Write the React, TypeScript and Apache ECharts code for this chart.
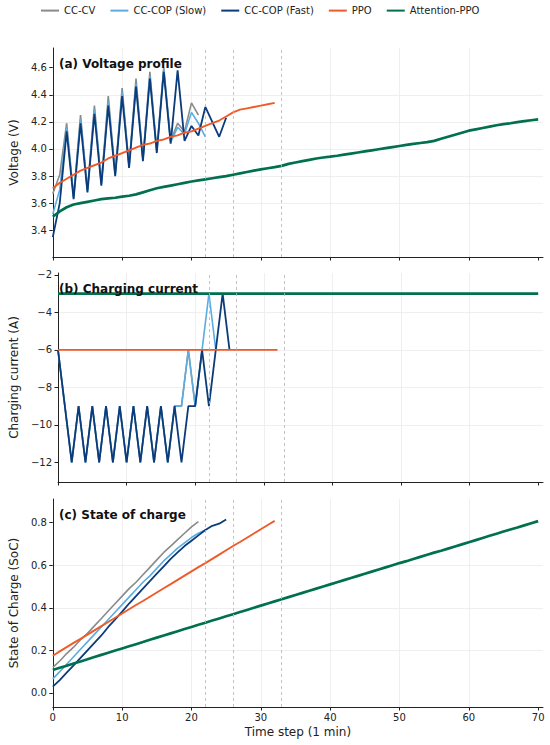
import React, { useEffect, useRef } from "react";
import * as echarts from "echarts";

// ---------- data ----------
const seriesNames = ["CC-CV", "CC-COP (Slow)", "CC-COP (Fast)", "PPO", "Attention-PPO"];
const switchSteps = [22, 26, 33];

const timeTicks = [0, 10, 20, 30, 40, 50, 60, 70];
const voltageTicks = [3.4, 3.6, 3.8, 4.0, 4.2, 4.4, 4.6];
const currentTicks = [-12, -10, -8, -6, -4, -2];
const socTicks = [0.0, 0.2, 0.4, 0.6, 0.8];

// Voltage (V)
const voltCCCV = [3.67, 3.81, 4.19, 3.65, 4.25, 3.70, 4.32, 3.75, 4.39, 3.82, 4.45, 3.88, 4.52, 3.93, 4.57, 3.99, 4.60, 4.06, 4.19, 4.13, 4.34, 4.25];
const voltSlow = [3.52, 3.70, 4.16, 3.64, 4.22, 3.69, 4.29, 3.74, 4.35, 3.81, 4.42, 3.87, 4.48, 3.92, 4.54, 3.98, 4.59, 4.05, 4.16, 4.11, 4.27, 4.19, 4.09];
const voltFast = [3.35, 3.60, 4.13, 3.63, 4.19, 3.68, 4.26, 3.73, 4.32, 3.80, 4.39, 3.86, 4.46, 3.91, 4.52, 3.97, 4.57, 4.04, 4.58, 4.06, 4.17, 4.10, 4.31, 4.20, 4.09, 4.23];
const voltPPO = [3.71, 3.75, 3.78, 3.81, 3.84, 3.86, 3.88, 3.90, 3.93, 3.95, 3.97, 3.99, 4.01, 4.03, 4.04, 4.06, 4.07, 4.09, 4.10, 4.12, 4.13, 4.15, 4.17, 4.19, 4.21, 4.24, 4.27, 4.29, 4.30, 4.31, 4.32, 4.33, 4.34];
const voltAttn = [3.50, 3.54, 3.57, 3.59, 3.60, 3.61, 3.62, 3.63, 3.635, 3.64, 3.648, 3.655, 3.665, 3.68, 3.695, 3.71, 3.72, 3.73, 3.74, 3.75, 3.76, 3.768, 3.776, 3.784, 3.792, 3.80, 3.81, 3.82, 3.83, 3.84, 3.85, 3.858, 3.866, 3.875, 3.89, 3.90, 3.91, 3.92, 3.93, 3.937, 3.943, 3.95, 3.958, 3.966, 3.974, 3.982, 3.99, 3.998, 4.006, 4.014, 4.022, 4.03, 4.037, 4.044, 4.05, 4.06, 4.075, 4.09, 4.105, 4.12, 4.135, 4.145, 4.155, 4.165, 4.175, 4.183, 4.19, 4.198, 4.205, 4.212, 4.218];

// Charging current (A)
const currCCCV = [-6, -9, -12, -9, -12, -9, -12, -9, -12, -9, -12, -9, -12, -9, -12, -9, -12, -9, -9, -6, -9, -6];
const currSlow = [-6, -9, -12, -9, -12, -9, -12, -9, -12, -9, -12, -9, -12, -9, -12, -9, -12, -9, -9, -6, -9, -6, -3, -6];
const currFast = [-6, -9, -12, -9, -12, -9, -12, -9, -12, -9, -12, -9, -12, -9, -12, -9, -12, -9, -12, -9, -9, -6, -9, -6, -3, -6];
const currPPO = [-6, -6, -6, -6, -6, -6, -6, -6, -6, -6, -6, -6, -6, -6, -6, -6, -6, -6, -6, -6, -6, -6, -6, -6, -6, -6, -6, -6, -6, -6, -6, -6, -6];
const currAttn = [-3, -3, -3, -3, -3, -3, -3, -3, -3, -3, -3, -3, -3, -3, -3, -3, -3, -3, -3, -3, -3, -3, -3, -3, -3, -3, -3, -3, -3, -3, -3, -3, -3, -3, -3, -3, -3, -3, -3, -3, -3, -3, -3, -3, -3, -3, -3, -3, -3, -3, -3, -3, -3, -3, -3, -3, -3, -3, -3, -3, -3, -3, -3, -3, -3, -3, -3, -3, -3, -3, -3];

// State of charge
const socCCCV = [0.12, 0.15, 0.185, 0.215, 0.25, 0.28, 0.315, 0.35, 0.385, 0.42, 0.455, 0.49, 0.52, 0.555, 0.59, 0.625, 0.66, 0.69, 0.72, 0.75, 0.78, 0.805];
const socSlow = [0.066, 0.10, 0.135, 0.17, 0.205, 0.24, 0.275, 0.31, 0.345, 0.38, 0.415, 0.45, 0.485, 0.52, 0.55, 0.585, 0.62, 0.65, 0.68, 0.705, 0.73, 0.75, 0.765];
const socFast = [0.03, 0.06, 0.095, 0.13, 0.165, 0.2, 0.235, 0.27, 0.31, 0.345, 0.382, 0.42, 0.455, 0.49, 0.525, 0.56, 0.595, 0.63, 0.66, 0.69, 0.715, 0.74, 0.765, 0.785, 0.795, 0.815];
const socPPO = [0.175, 0.195, 0.215, 0.235, 0.254, 0.274, 0.294, 0.314, 0.333, 0.353, 0.373, 0.393, 0.413, 0.432, 0.452, 0.472, 0.492, 0.511, 0.531, 0.551, 0.571, 0.591, 0.610, 0.630, 0.650, 0.670, 0.690, 0.709, 0.729, 0.749, 0.769, 0.789, 0.808];
const socAttn = [0.108, 0.118, 0.128, 0.138, 0.148, 0.158, 0.169, 0.179, 0.189, 0.199, 0.209, 0.219, 0.229, 0.239, 0.250, 0.260, 0.270, 0.280, 0.290, 0.300, 0.310, 0.320, 0.330, 0.340, 0.350, 0.360, 0.370, 0.380, 0.390, 0.400, 0.410, 0.420, 0.430, 0.440, 0.450, 0.460, 0.470, 0.480, 0.490, 0.500, 0.510, 0.520, 0.530, 0.540, 0.550, 0.560, 0.570, 0.580, 0.590, 0.600, 0.610, 0.619, 0.629, 0.639, 0.649, 0.659, 0.668, 0.678, 0.688, 0.698, 0.708, 0.718, 0.728, 0.738, 0.748, 0.758, 0.768, 0.777, 0.787, 0.797, 0.807];

// ---------- styling ----------
const FONT = "DejaVu Sans";
const colors = ["#8a8a8a", "#5aade0", "#0b3b7a", "#f05a28", "#00704f"];
const widths = [1.6, 1.6, 1.8, 1.9, 2.7];
const AXIS_COLOR = "#222";
const GRID_COLOR = "#ebebeb";

const toPairs = (vals: number[]) => vals.map((v, i) => [i, v]);
const minus = (s: string) => s.replace("-", "\u2212");

export default function App() {
  const ref = useRef<HTMLDivElement>(null);

  useEffect(() => {
    if (!ref.current) return;
    const chart = echarts.init(ref.current, null, { renderer: "svg" });

    const grids = [
      { left: 52, right: 7, top: 48, height: 209 },
      { left: 52, right: 7, top: 273, height: 209 },
      { left: 52, right: 7, top: 499, height: 208 },
    ];

    const xAxes = [0, 1, 2].map((g) => ({
      type: "value",
      gridIndex: g,
      min: 0,
      max: 70.7,
      interval: 10,
      name: g === 2 ? "Time step (1 min)" : "",
      nameLocation: "middle",
      nameGap: 19,
      nameTextStyle: { fontFamily: FONT, fontSize: 12, color: AXIS_COLOR },
      axisLine: { show: true, onZero: false, lineStyle: { color: AXIS_COLOR, width: 1 } },
      axisTick: { show: true, length: 3.5, customValues: timeTicks, lineStyle: { color: AXIS_COLOR } },
      axisLabel: {
        show: g === 2,
        customValues: timeTicks,
        fontFamily: FONT,
        fontSize: 10,
        color: AXIS_COLOR,
        margin: 5,
      },
      splitLine: { show: true, showMaxLine: false, lineStyle: { color: GRID_COLOR, width: 0.8 } },
    }));

    const yCommon = (g: number, name: string, gap: number, ticks: number[], fmt: (v: number) => string) => ({
      type: "value",
      gridIndex: g,
      name,
      nameLocation: "middle",
      nameGap: gap,
      nameTextStyle: { fontFamily: FONT, fontSize: 12, color: AXIS_COLOR },
      axisLine: { show: true, lineStyle: { color: AXIS_COLOR, width: 1 } },
      axisTick: { show: true, length: 3.5, customValues: ticks, lineStyle: { color: AXIS_COLOR } },
      axisLabel: {
        customValues: ticks,
        fontFamily: FONT,
        fontSize: 10,
        color: AXIS_COLOR,
        margin: 6,
        formatter: (v: number) => fmt(v),
      },
      splitLine: { show: true, showMinLine: false, showMaxLine: false, lineStyle: { color: GRID_COLOR, width: 0.8 } },
    });

    const yAxes = [
      { ...yCommon(0, "Voltage (V)", 30, voltageTicks, (v) => v.toFixed(1)), min: 3.203, max: 4.745, splitNumber: 7 },
      { ...yCommon(1, "Charging current (A)", 33, currentTicks, (v) => minus(String(Math.round(v)))), min: -13.05, max: -1.9, splitNumber: 5 },
      { ...yCommon(2, "State of Charge (SoC)", 30, socTicks, (v) => minus(v.toFixed(1))), min: -0.066, max: 0.911, splitNumber: 5 },
    ];

    const panels = [
      [voltCCCV, voltSlow, voltFast, voltPPO, voltAttn],
      [currCCCV, currSlow, currFast, currPPO, currAttn],
      [socCCCV, socSlow, socFast, socPPO, socAttn],
    ];

    const series: any[] = [];
    panels.forEach((arrs, g) => {
      arrs.forEach((vals, k) => {
        const s: any = {
          type: "line",
          name: seriesNames[k],
          xAxisIndex: g,
          yAxisIndex: g,
          data: toPairs(vals),
          symbol: "none",
          showSymbol: false,
          smooth: false,
          lineStyle: { color: colors[k], width: widths[k] },
          itemStyle: { color: colors[k] },
          emphasis: { disabled: true },
        };
        if (k === 0) {
          s.markLine = {
            silent: true,
            symbol: "none",
            label: { show: false },
            lineStyle: { type: [3, 3], color: "#b5b5b5", width: 0.8 },
            data: switchSteps.map((x) => ({ xAxis: x })),
          };
        }
        series.push(s);
      });
    });

    const titleStyle = { fontFamily: FONT, fontSize: 12, fontWeight: "bold", color: "#111" };

    chart.setOption({
      animation: false,
      backgroundColor: "#fff",
      title: [
        { text: "(a) Voltage profile", left: 59, top: 58, padding: 0, textStyle: titleStyle },
        { text: "(b) Charging current", left: 59, top: 283, padding: 0, textStyle: titleStyle },
        { text: "(c) State of charge", left: 59, top: 509, padding: 0, textStyle: titleStyle },
      ],
      legend: {
        data: seriesNames,
        left: 40,
        top: 5,
        padding: 0,
        itemWidth: 18,
        itemHeight: 14,
        itemGap: 14,
        itemStyle: { opacity: 0 },
        textStyle: { fontFamily: FONT, fontSize: 10, color: AXIS_COLOR },
      },
      grid: grids,
      xAxis: xAxes,
      yAxis: yAxes,
      series,
    });

    return () => chart.dispose();
  }, []);

  return (
    <div
      ref={ref}
      style={{ position: "absolute", left: 0, top: 0, width: 550, height: 745, background: "#fff" }}
    />
  );
}
